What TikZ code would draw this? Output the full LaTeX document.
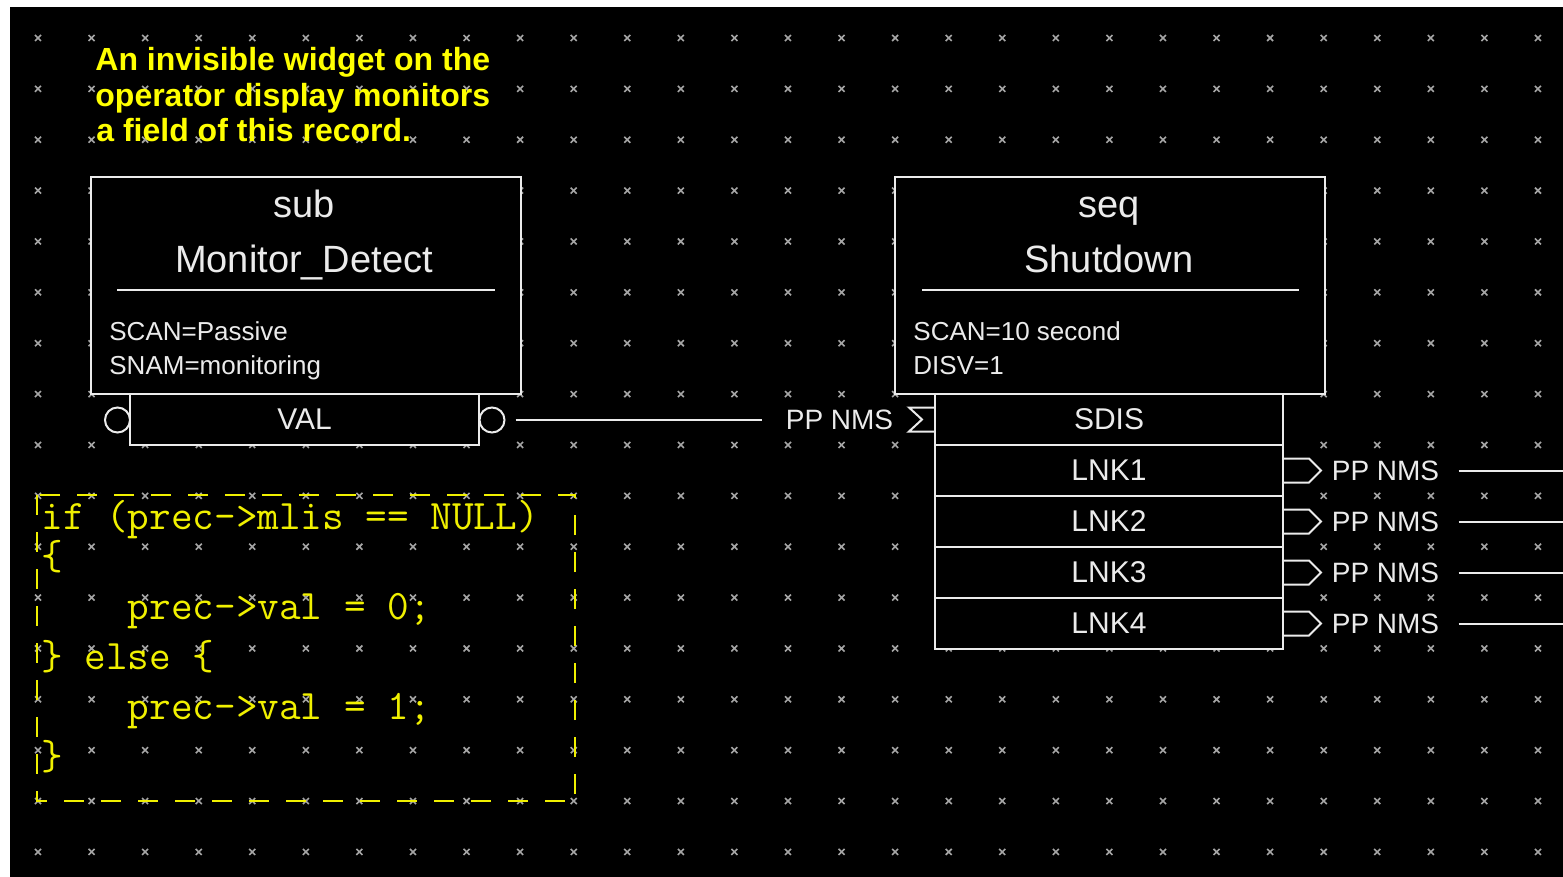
\documentclass[tikz,border=0pt]{standalone}
\usepackage{fontspec}
\setmainfont{Liberation Sans}
\definecolor{wirecol}{RGB}{235,235,235}
\definecolor{notecol}{RGB}{255,255,0}
\definecolor{codecol}{RGB}{240,240,0}
\definecolor{gridgray}{RGB}{165,165,165}
\tikzset{
	gridmark/.style={gridgray, line width=0.8pt},
	recbox/.style={draw=wirecol, fill=black, line width=1pt, minimum width=215pt, minimum height=108.5pt},
	fieldbox/.style={draw=wirecol, fill=black, line width=1pt, minimum width=174.5pt, minimum height=25.5pt, inner sep=0pt, text=wirecol, font=\fontsize{15}{15}\selectfont},
	rectitle/.style={text=wirecol, inner sep=0pt, anchor=base, font=\fontsize{19}{19}\selectfont},
	recfield/.style={text=wirecol, inner sep=0pt, anchor=base west, font=\fontsize{13}{13}\selectfont},
	linklabel/.style={text=wirecol, inner sep=0pt, font=\fontsize{14}{14}\selectfont},
	pinring/.style={circle, draw=wirecol, line width=1pt, minimum size=12.5pt, inner sep=0pt},
	wireline/.style={wirecol, line width=1pt},
	notetext/.style={text=notecol, inner sep=0pt, anchor=base west, font=\fontsize{16}{16}\bfseries\selectfont},
	codetext/.style={text=codecol, inner sep=0pt, anchor=base west, font=\fontsize{21}{21}\ttfamily},
}
\begin{document}
\begin{tikzpicture}[x=0.5pt, y=-0.5pt]
	\useasboundingbox (0,0) rectangle (1563,877);
	\fill[white] (0,0) rectangle (1563,877);
	\fill[black] (10,7) rectangle (1563,877);
	
	% grid of the editor
	\foreach \i in {0,...,28}
	\foreach \j in {0,...,16}
	\draw[gridmark] ({38+53.57*\i-3},{38+50.87*\j-3}) -- ++(6,6) ++(-6,0) -- ++(6,-6);
	
	\node[notetext] (note1) at (95,71) {An invisible widget on the};
	\node[notetext] (note2) at (95,107) {operator display monitors};
	\node[notetext] (note3) at (96,142) {a field of this record.};
	
	% sub record
	\node[recbox] (subrec) at (306,285.5) {};
	\node[rectitle] (subtype) at (304,218) {sub};
	\node[rectitle] (subname) at (304,272) {Monitor\_Detect};
	\draw[wireline] (117,290) -- (495,290);
	\node[recfield] (subscan) at (109,340) {SCAN=Passive};
	\node[recfield] (subsnam) at (109,374) {SNAM=monitoring};
	\node[pinring] (vin) at (117.5,420) {};
	\node[pinring] (vout) at (492,420) {};
	\node[fieldbox] (subval) at (304.5,419.5) {VAL};
	
	% seq record
	\node[recbox] (seqrec) at (1110,285.5) {};
	\node[rectitle] (seqtype) at (1109,218) {seq};
	\node[rectitle] (seqname) at (1109,272) {Shutdown};
	\draw[wireline] (922,290) -- (1299,290);
	\node[recfield] (seqscan) at (913,340) {SCAN=10 second};
	\node[recfield] (seqdisv) at (913,374) {DISV=1};
	\node[fieldbox, minimum width=174pt] (seqsdis) at (1109,419.5) {SDIS};
	\foreach \r/\y in {1/470.5,2/521.5,3/572.5,4/623.5}{
		\node[fieldbox, minimum width=174pt] (seqlnk\r) at (1109,\y) {LNK\r};
		\draw[wireline] ([yshift=6pt]seqlnk\r.east) -- ++(25,0) -- ++(12,12) -- ++(-12,12) -- ++(-25,0);
		\node[linklabel] (ppout\r) at (1385.5,\y) {PP NMS};
		\coordinate (lnkend\r) at (1563,\y);
		\draw[wireline] ([xshift=9.5pt]ppout\r.east) -- (lnkend\r);
	}
	
	% link VAL -> SDIS
	\draw[wireline] ([yshift=6pt]seqsdis.west) -- ++(-25,0) -- ++(13,12) -- ++(-13,12) -- ++(25,0);
	\node[linklabel] (ppin) at (839.5,420) {PP NMS};
	\draw[wireline] ([xshift=5pt]vout.east) -- ([xshift=-11.5pt]ppin.west);
	
	% subroutine code
	\draw[codecol, line width=1pt, dash pattern=on 10pt off 8.5pt] (37,495) rectangle (575,801);
	\node[codetext] (code1) at (41,529) {if (prec->mlis == NULL)};
	\node[codetext] (code2) at (41,569) {\{};
	\node[codetext] (code3) at (41,619) {\ \ \ \ prec->val = 0;};
	\node[codetext] (code4) at (41,669) {\} else \{};
	\node[codetext] (code5) at (41,719) {\ \ \ \ prec->val = 1;};
	\node[codetext] (code6) at (41,769) {\}};
\end{tikzpicture}
\end{document}
